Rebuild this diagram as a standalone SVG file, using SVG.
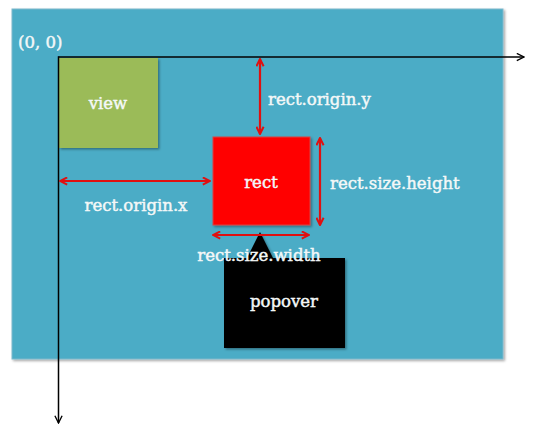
<svg xmlns="http://www.w3.org/2000/svg" width="539" height="425" viewBox="0 0 539 425">
<style>
.lbl{font-family:"DejaVu Serif","Liberation Serif",serif;font-size:16.5px;fill:#f4f8f8;stroke:#f4f8f8;stroke-width:0.45}
.red{stroke:#e01010;stroke-width:2.2;fill:none}
.axis{stroke:#000;stroke-width:1.5;fill:none}
</style>
<defs>
<marker id="ra" viewBox="0 0 10 10" refX="9" refY="5" markerWidth="9" markerHeight="9" markerUnits="userSpaceOnUse" orient="auto-start-reverse">
<path d="M1,1 L9,5 L1,9" fill="none" stroke="#e01010" stroke-width="2.2"/>
</marker>
<marker id="ba" viewBox="0 0 10 10" refX="9" refY="5" markerWidth="9" markerHeight="9" markerUnits="userSpaceOnUse" orient="auto">
<path d="M1,1 L9,5 L1,9" fill="none" stroke="#000" stroke-width="1.5"/>
</marker>
<filter id="sh" x="-10%" y="-10%" width="130%" height="130%">
<feDropShadow dx="1.5" dy="1.5" stdDeviation="1.2" flood-color="#000" flood-opacity="0.35"/>
</filter>
</defs>
<rect width="539" height="425" fill="#ffffff"/>
<g id="canvas">
<rect x="12" y="9" width="491" height="350" fill="#4BACC6" stroke="#7fb8cc" stroke-width="1" filter="url(#sh)"/>
<text class="lbl" x="18" y="48">(0, 0)</text>
</g>
<g id="view">
<rect x="59" y="58" width="99" height="90" fill="#9BBB59" filter="url(#sh)"/>
<text class="lbl" x="108" y="109" text-anchor="middle">view</text>
</g>
<g id="rect">
<rect x="213" y="137" width="97" height="88" fill="#ff0000" stroke="#d84040" stroke-width="1" filter="url(#sh)"/>
<text class="lbl" x="261" y="188" text-anchor="middle">rect</text>
</g>
<g id="popover">
<path d="M224,258 L247,258 L260,232 L273,258 L345,258 L345,348 L224,348 Z" fill="#000000" filter="url(#sh)"/>
<text class="lbl" x="284" y="307" text-anchor="middle">popover</text>
</g>
<g id="connectors">
<line class="axis" x1="58.5" y1="57" x2="524" y2="57" marker-end="url(#ba)"/>
<line class="axis" x1="58.5" y1="56.3" x2="58.5" y2="423" marker-end="url(#ba)"/>
<line class="red" x1="260" y1="59" x2="260" y2="134" marker-start="url(#ra)" marker-end="url(#ra)"/>
<line class="red" x1="320" y1="138" x2="320" y2="225" marker-start="url(#ra)" marker-end="url(#ra)"/>
<line class="red" x1="60" y1="181" x2="210" y2="181" marker-start="url(#ra)" marker-end="url(#ra)"/>
<line class="red" x1="213" y1="235" x2="309" y2="235" marker-start="url(#ra)" marker-end="url(#ra)"/>
</g>
<g id="labels">
<text class="lbl" x="268" y="105">rect.origin.y</text>
<text class="lbl" x="330" y="189">rect.size.height</text>
<text class="lbl" x="136" y="211" text-anchor="middle">rect.origin.x</text>
<text class="lbl" x="259" y="261" text-anchor="middle">rect.size.width</text>
</g>
</svg>
